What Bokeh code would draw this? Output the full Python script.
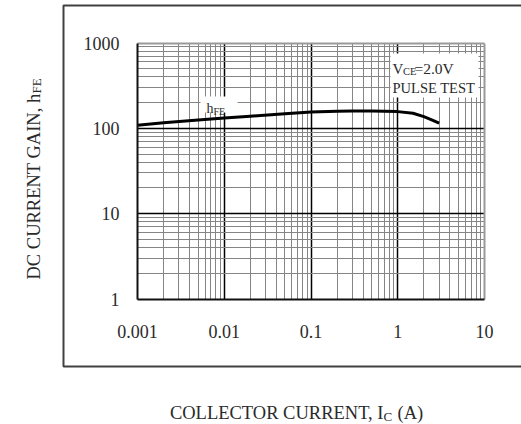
import math
from bokeh.plotting import figure
from bokeh.models import Range1d, FixedTicker, BoxAnnotation, Label, LogAxis, Grid
from bokeh.embed import file_html
from bokeh.resources import INLINE

# ---- data ----
ic_amps = [0.001, 0.002, 0.005, 0.01, 0.02, 0.05, 0.1, 0.2, 0.3, 0.5, 0.7, 1.0, 1.5, 2.0, 2.5, 3.0]
hfe = [109, 116, 125, 132, 139, 148, 155, 159, 160, 160, 159, 157, 150, 137, 125, 115]

x_ticks = [0.001, 0.01, 0.1, 1, 10]
x_tick_labels = ["0.001", "0.01", "0.1", "1", "10"]
y_ticks = [1, 10, 100, 1000]
y_tick_labels = ["1", "10", "100", "1000"]

FONT = "Liberation Serif"
TXT = "#2a2a2a"

# ---- layout (pixels) ----
W, H = 521, 424
X0, X1 = 137.0, 484.0      # pixel of first / last x decade
YT, YB = 42.5, 298.5       # pixel of top / bottom y decade
nx = math.log10(x_ticks[-1] / x_ticks[0])
ny = math.log10(y_ticks[-1] / y_ticks[0])
dx = (X1 - X0) / nx
dy = (YB - YT) / ny
x_lo = x_ticks[0] * 10 ** (-X0 / dx)
x_hi = x_ticks[-1] * 10 ** ((W - X1) / dx)
y_lo = y_ticks[0] * 10 ** (-(H - YB) / dy)
y_hi = y_ticks[-1] * 10 ** (YT / dy)

p = figure(width=W, height=H, x_axis_type="log", y_axis_type="log",
           x_axis_location=None, y_axis_location=None, title=None,
           x_range=Range1d(x_lo, x_hi), y_range=Range1d(y_lo, y_hi),
           output_backend="svg", toolbar_location=None, min_border=0)
p.background_fill_color = "white"
p.border_fill_color = "white"
p.outline_line_color = None
# drop any default grids; custom bounded grids are added below
p.center = [r for r in p.center if not isinstance(r, Grid)]

def minors(ticks):
    out = []
    for t in ticks[:-1]:
        for k in range(2, 10):
            out.append(t * k)
    return out

xb = (x_ticks[0], x_ticks[-1])
yb = (y_ticks[0], y_ticks[-1])

# grids
def grid(dim, ticks, minor, cross, color, width, mcolor=None):
    g = Grid(dimension=dim, ticker=FixedTicker(ticks=ticks, minor_ticks=minor),
             bounds=(xb if dim == 0 else yb),
             cross_bounds=cross, grid_line_color=color, grid_line_width=width,
             minor_grid_line_color=mcolor, minor_grid_line_width=1)
    p.add_layout(g)

grid(0, x_ticks[1:-1], minors(x_ticks), yb, "black", 1.5, "#858585")
grid(1, y_ticks[1:-1], minors(y_ticks), xb, "black", 1.5, "#858585")
grid(0, x_ticks[-1:], [], yb, "#999999", 2)
grid(1, y_ticks[-1:], [], xb, "#999999", 2)

# axes
def axis(ticks, labels, loc, bounds, place, standoff):
    ax = LogAxis(ticker=FixedTicker(ticks=ticks), fixed_location=loc, bounds=bounds)
    ax.major_label_overrides = {t: s for t, s in zip(ticks, labels)}
    ax.major_tick_line_color = None
    ax.minor_tick_line_color = None
    ax.axis_line_color = "#111111"
    ax.axis_line_width = 2
    ax.major_label_text_font = FONT
    ax.major_label_text_font_size = "18px"
    ax.major_label_text_color = TXT
    ax.major_label_standoff = standoff
    p.add_layout(ax, place)

axis(x_ticks, x_tick_labels, y_ticks[0], xb, "below", 20)
axis(y_ticks, y_tick_labels, x_ticks[0], yb, "left", 12)

p.line(ic_amps, hfe, line_color="black", line_width=3)

def box(l, r, t, b, **kw):
    p.add_layout(BoxAnnotation(left=l, right=r, top=t, bottom=b,
                               left_units="canvas", right_units="canvas",
                               top_units="canvas", bottom_units="canvas", **kw))

# outer box
box(63, 530, 5, 366, fill_color=None, fill_alpha=0, line_color="#404040",
    line_alpha=1, line_width=2)
# white label backgrounds
box(390, 478, 53, 97, fill_color="white", fill_alpha=1, line_color=None)
box(200, 237, 96, 112, fill_color="white", fill_alpha=1, line_color=None)

def lab(x, y, text, size, align="left", angle=0, baseline="alphabetic"):
    p.add_layout(Label(x=x, y=y, x_units="canvas", y_units="canvas", text=text,
                       text_font=FONT, text_font_size=size, text_color=TXT,
                       text_align=align, text_baseline=baseline, angle=angle))

# in-chart annotations
lab(392, 68, "V", "15px")
lab(402.5, 71, "CE", "10.5px")
lab(414, 68, "=2.0V", "15.5px")
lab(392, 87, "PULSE TEST", "14.5px")
lab(206, 108, "h", "14px")
lab(213, 111, "FE", "10px")

# axis titles
lab(383, 412, "COLLECTOR CURRENT, I", "18.5px", align="right")
lab(383, 416, "C", "13px")
lab(397, 412, "(A)", "18.5px")

lab(33, 93, "DC CURRENT GAIN, h", "18.5px", align="right", angle=math.pi / 2)
lab(36, 93, "FE", "13px", align="left", angle=math.pi / 2)

open("out.html", "w").write(file_html(p, INLINE))
